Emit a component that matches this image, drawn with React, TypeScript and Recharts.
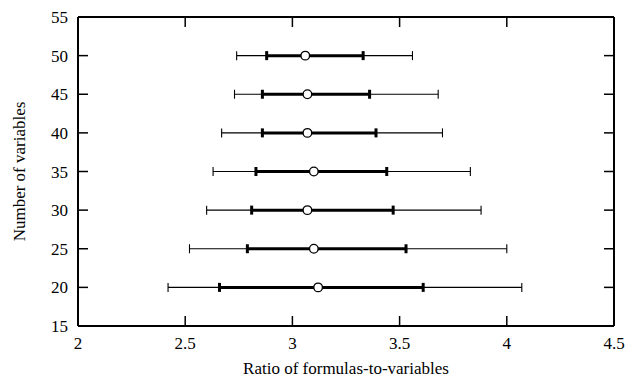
import {
  ScatterChart,
  Scatter,
  XAxis,
  YAxis,
  ErrorBar,
} from "recharts"

const variableCounts = [20, 25, 30, 35, 40, 45, 50]
const minRatio = [2.42, 2.52, 2.6, 2.63, 2.67, 2.73, 2.74]
const lowerQuartile = [2.66, 2.79, 2.81, 2.83, 2.86, 2.86, 2.88]
const meanRatio = [3.12, 3.1, 3.07, 3.1, 3.07, 3.07, 3.06]
const upperQuartile = [3.61, 3.53, 3.47, 3.44, 3.39, 3.36, 3.33]
const maxRatio = [4.07, 4.0, 3.88, 3.83, 3.7, 3.68, 3.56]

const xTicks = [2, 2.5, 3, 3.5, 4, 4.5]
const yTicks = [15, 20, 25, 30, 35, 40, 45, 50, 55]

const FONT = "'Liberation Serif', serif"
const tickStyle = { fill: "#000", fontSize: 17, fontFamily: FONT }
const axisStroke = { stroke: "#000", strokeWidth: 2 }
const tickStroke = { stroke: "#000", strokeWidth: 1.5 }

const rows = variableCounts.map((n, i) => ({
  ratio: meanRatio[i],
  n,
  range: [meanRatio[i] - minRatio[i], maxRatio[i] - meanRatio[i]],
  quartiles: [meanRatio[i] - lowerQuartile[i], upperQuartile[i] - meanRatio[i]],
}))

const MeanDot = (props: any) => (
  <circle cx={props.cx} cy={props.cy} r={4.3} fill="#fff" stroke="#000" strokeWidth={1.3} />
)

// only there so the mirrored top/right axes get drawn
const NoDot = () => <g />

export default function App() {
  return (
    <div style={{ position: "fixed", left: 0, top: 0, background: "#fff", fontFamily: FONT }}>
      <ScatterChart
        width={629}
        height={377}
        margin={{ top: 16, right: 14, bottom: 0, left: 0 }}
        style={{ fontFamily: FONT }}
      >
        <XAxis
          xAxisId="bottom"
          dataKey="ratio"
          type="number"
          domain={[2, 4.5]}
          ticks={xTicks}
          allowDataOverflow
          height={51}
          tickSize={-10}
          tickMargin={21}
          tick={tickStyle}
          axisLine={axisStroke}
          tickLine={tickStroke}
          label={{
            value: "Ratio of formulas-to-variables",
            position: "insideBottom",
            offset: 3,
            style: { fill: "#000", fontSize: 17, fontFamily: FONT },
          }}
        />
        <XAxis
          xAxisId="top"
          orientation="top"
          dataKey="ratio"
          type="number"
          domain={[2, 4.5]}
          ticks={xTicks}
          allowDataOverflow
          height={1}
          tickSize={-10}
          tickFormatter={() => ""}
          axisLine={axisStroke}
          tickLine={tickStroke}
        />
        <YAxis
          yAxisId="left"
          dataKey="n"
          type="number"
          domain={[15, 55]}
          ticks={yTicks}
          allowDataOverflow
          width={78}
          tickSize={-10}
          tickMargin={20}
          tick={tickStyle}
          axisLine={axisStroke}
          tickLine={tickStroke}
          label={{
            value: "Number of variables",
            angle: -90,
            position: "insideLeft",
            offset: 19,
            style: { fill: "#000", fontSize: 17, fontFamily: FONT, textAnchor: "middle" },
          }}
        />
        <YAxis
          yAxisId="right"
          orientation="right"
          dataKey="n"
          type="number"
          domain={[15, 55]}
          ticks={yTicks}
          allowDataOverflow
          width={1}
          tickSize={-10}
          tickFormatter={() => ""}
          axisLine={axisStroke}
          tickLine={tickStroke}
        />
        <Scatter
          data={rows}
          xAxisId="top"
          yAxisId="right"
          shape={NoDot}
          isAnimationActive={false}
        />
        <Scatter
          data={rows}
          xAxisId="bottom"
          yAxisId="left"
          shape={MeanDot}
          isAnimationActive={false}
        >
          <ErrorBar
            dataKey="range"
            direction="x"
            width={4.5}
            stroke="#000"
            strokeWidth={1.1}
            isAnimationActive={false}
          />
          <ErrorBar
            dataKey="quartiles"
            direction="x"
            width={4.5}
            stroke="#000"
            strokeWidth={3}
            isAnimationActive={false}
          />
        </Scatter>
      </ScatterChart>
    </div>
  )
}
